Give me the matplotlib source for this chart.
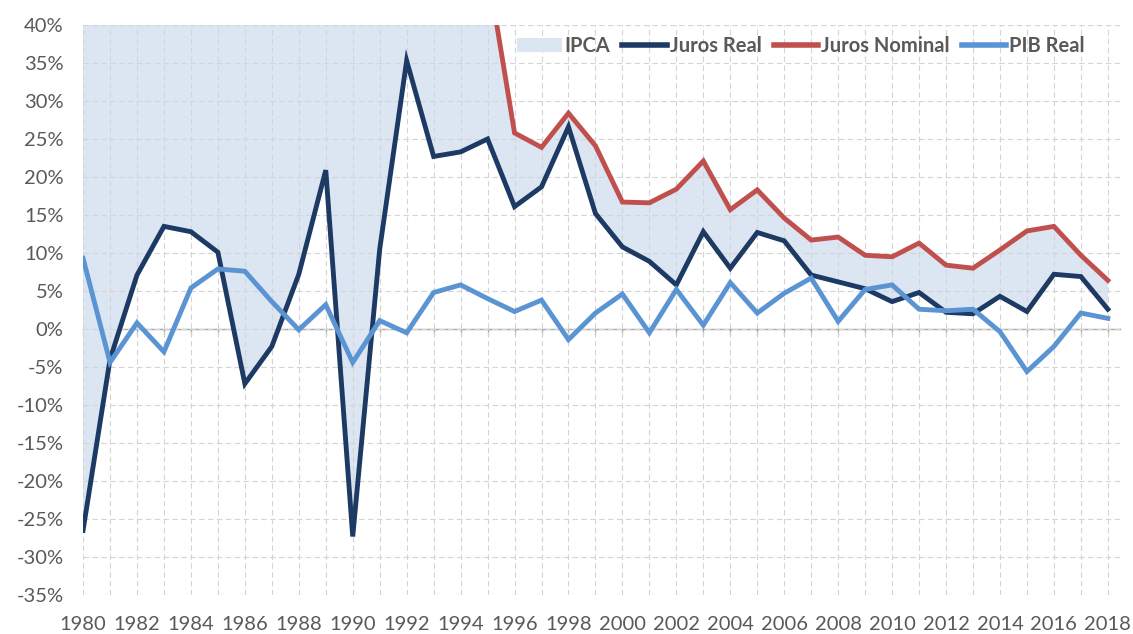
import matplotlib
matplotlib.use("Agg")
import matplotlib.pyplot as plt
from matplotlib.patches import Patch
from matplotlib.lines import Line2D
from matplotlib.ticker import MultipleLocator, FuncFormatter

plt.rcParams['font.family'] = ['Lato', 'DejaVu Sans']

years = list(range(1980, 2019))

juros_real = [-26.5, -4.0, 7.1, 13.5, 12.8, 10.1, -7.2, -2.3, 7.2, 20.9,
              -27.3, 10.5, 35.3, 22.7, 23.3, 25.0, 16.1, 18.7, 26.6, 15.2,
              10.8, 8.9, 5.8, 12.8, 8.0, 12.7, 11.6, 7.1, 6.2, 5.3,
              3.6, 4.8, 2.2, 2.0, 4.3, 2.3, 7.2, 6.9, 2.6]

juros_nominal = [72.8, 91.6, 111.9, 177.5, 228.1, 252.3, 72.5, 361.1, 987.4, 1993.8,
                 1593.6, 483.2, 1154.4, 2499.9, 939.8, 47.4, 25.8, 23.9, 28.4, 24.1,
                 16.7, 16.6, 18.4, 22.1, 15.7, 18.3, 14.6, 11.7, 12.1, 9.7,
                 9.5, 11.3, 8.4, 8.0, 10.4, 12.9, 13.5, 9.7, 6.4]

pib_real = [9.3, -4.4, 0.8, -3.0, 5.4, 7.9, 7.6, 3.6, -0.1, 3.2,
            -4.4, 1.1, -0.5, 4.8, 5.8, 4.0, 2.3, 3.8, -1.4, 2.1,
            4.6, -0.5, 5.2, 0.5, 6.1, 2.1, 4.7, 6.7, 1.0, 5.2,
            5.8, 2.6, 2.4, 2.6, -0.35, -5.6, -2.3, 2.1, 1.4]

c_fill = '#dce6f3'
c_real = '#1c3a63'
c_nom = '#c0504d'
c_pib = '#5b94d3'
c_text = '#595959'

fig = plt.figure(figsize=(11.33, 6.34), dpi=100)
ax = fig.add_axes([0.0733, 0.0615, 0.9152, 0.8991])

ax.fill_between(years, juros_real, juros_nominal, color=c_fill, lw=0, zorder=0.4)
ax.plot(years, juros_real, color=c_real, lw=3.5, zorder=3, solid_joinstyle='miter')
ax.plot(years, juros_nominal, color=c_nom, lw=3.5, zorder=4, solid_joinstyle='miter')
ax.plot(years, pib_real, color=c_pib, lw=3.5, zorder=5, solid_joinstyle='miter')

ax.set_xlim(1980, 2018.45)
ax.set_ylim(-35, 40)

ax.set_axisbelow(True)
ax.yaxis.set_major_locator(MultipleLocator(5))
ax.yaxis.set_major_formatter(FuncFormatter(lambda v, p: f"{v:.0f}%"))
ax.set_xticks(years)
ax.set_xticklabels([str(y) if y % 2 == 0 else '' for y in years])
ax.grid(True, which='major', axis='both', color='#d4d4d4', lw=0.8,
        linestyle=(0, (5, 3)))

for s in ax.spines.values():
    s.set_visible(False)
ax.tick_params(axis='both', length=0, labelsize=14.5, colors=c_text)
ax.tick_params(axis='y', pad=14)
ax.tick_params(axis='x', pad=15)

# zero axis line with tick marks
sec = ax.secondary_xaxis(0, transform=ax.transData)
sec.set_xticks(years)
sec.set_xticklabels([])
sec.tick_params(axis='x', length=4, width=0.9, color='#a6a6a6', direction='out')
sec.spines['bottom'].set_color('#a6a6a6')
sec.spines['bottom'].set_linewidth(1.0)

handles = [Patch(facecolor=c_fill, edgecolor='none'),
           Line2D([], [], color=c_real, lw=4),
           Line2D([], [], color=c_nom, lw=4),
           Line2D([], [], color=c_pib, lw=4)]
labels = ['IPCA', 'Juros Real', 'Juros Nominal', 'PIB Real']
leg = ax.legend(handles, labels, loc='upper right', bbox_to_anchor=(0.966, 0.981),
                ncol=4, frameon=False, handlelength=2.2, handletextpad=0.15,
                columnspacing=0.6, prop={'size': 14.5, 'weight': 'bold'},
                labelcolor=c_text, borderaxespad=0, borderpad=0)

fig.savefig('out.png', dpi=100)
